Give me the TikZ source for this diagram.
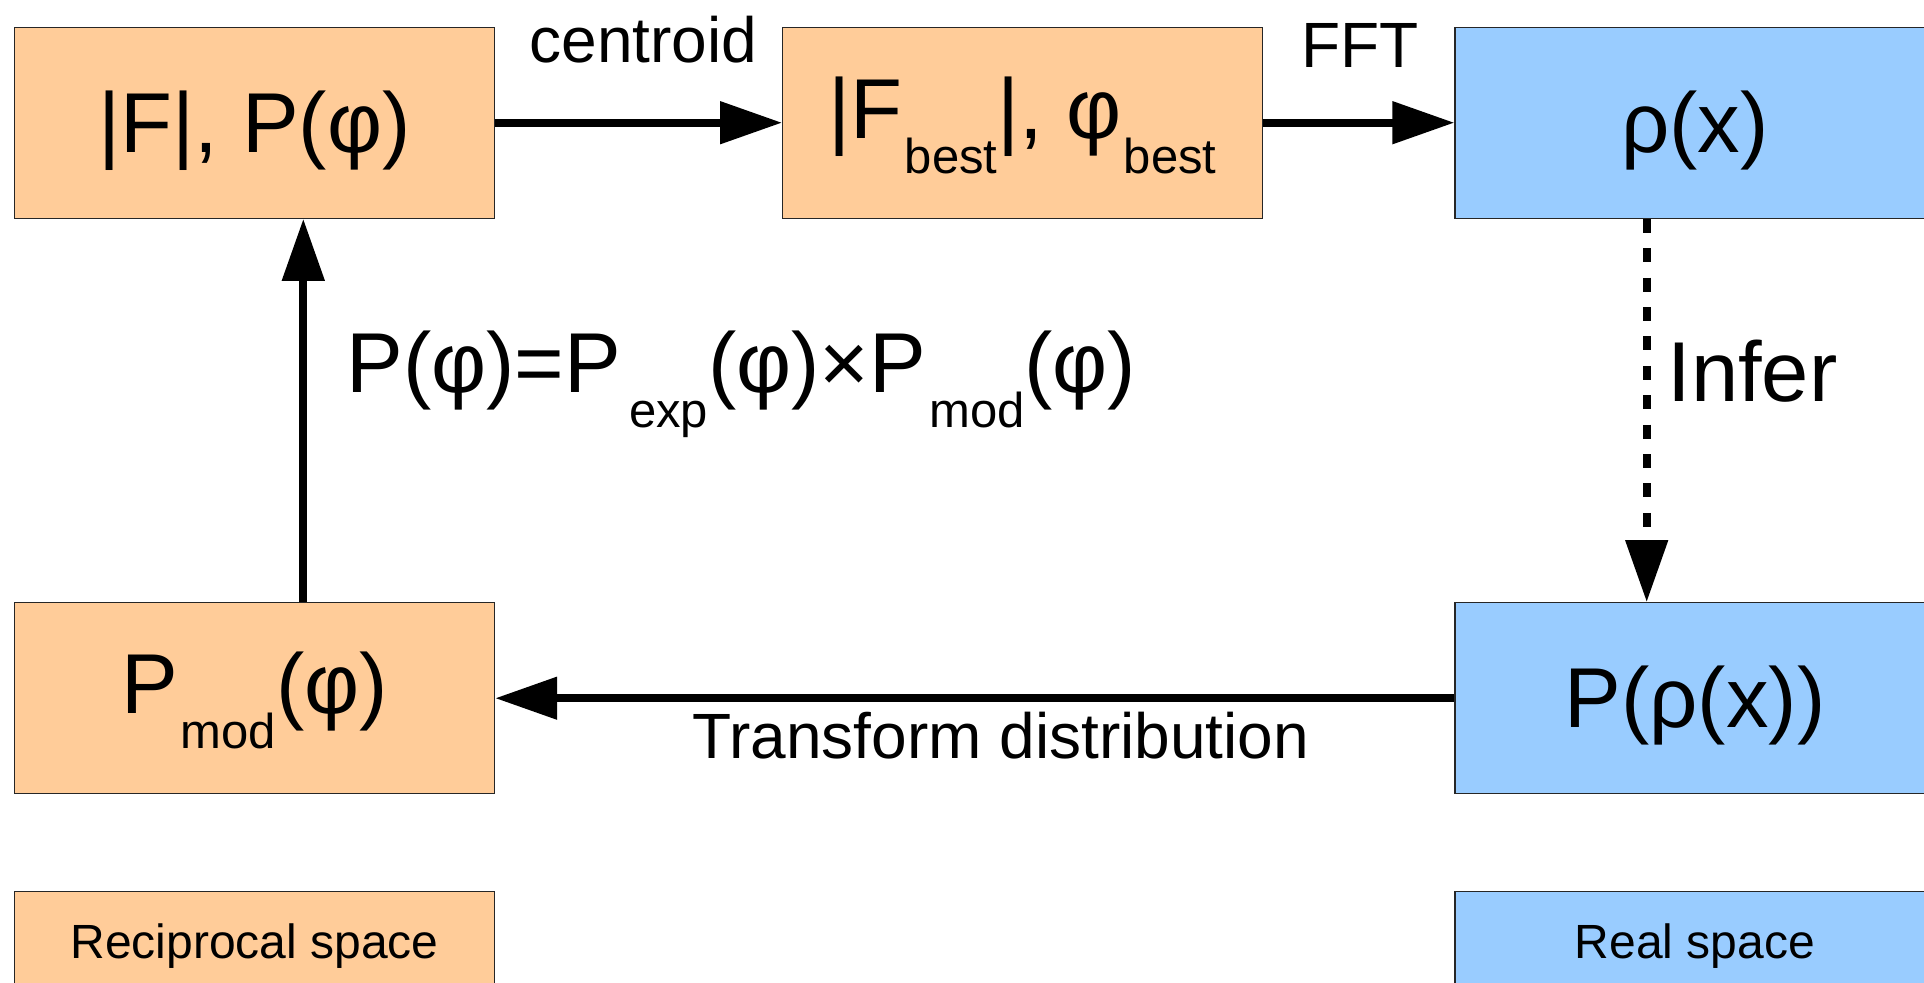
\documentclass[tikz,border=0pt]{standalone}
\usepackage{fontspec}
\setmainfont{Liberation Sans}
\usetikzlibrary{arrows.meta,calc}

\definecolor{recipfill}{HTML}{FFCC99}
\definecolor{realfill}{HTML}{99CCFF}

% text sizes
\newcommand{\bigtxt}{\fontsize{42.5pt}{42.5pt}\selectfont}
\newcommand{\midtxt}{\fontsize{32pt}{32pt}\selectfont}
\newcommand{\smalltxt}{\fontsize{24pt}{24pt}\selectfont}
% line strut: font ascent and descent
\newcommand{\lostrut}{\rule[-0.212em]{0pt}{1.117em}}
% lowered subscript, optional kern before it
\newcommand{\lowsub}[2][0pt]{\kern#1\raisebox{-17.5pt}{\fontsize{24.5pt}{24.5pt}\selectfont #2\lostrut}}

\begin{document}
\begin{tikzpicture}[x=0.5pt,y=-0.5pt,
  boxbase/.style={rectangle, draw=black!85, line width=0.6pt,
    minimum width=240pt, minimum height=95.5pt, inner sep=0pt},
  recip/.style={boxbase, fill=recipfill},
  real/.style={boxbase, fill=realfill},
  flow/.style={line width=4pt, -{Triangle[length=31pt,width=20.5pt]}},
  lbl/.style={anchor=base, inner sep=0pt}]
\clip (0,0) rectangle (1924,982);

% boxes
\node[recip] (A) at (254.6,122.7) {\bigtxt\lostrut|F|, P(φ)};
\node[recip] (B) at (1022.7,122.7) {\bigtxt\lostrut|F\lowsub[1pt]{best}|, φ\lowsub[1pt]{best}};
\node[real]  (C) at (1695,122.7) {\bigtxt\lostrut ρ(x)};
\node[recip] (D) at (254.6,698.2) {\bigtxt\lostrut P\lowsub[1.5pt]{mod}(φ)};
\node[real]  (E) at (1695,698.2) {\bigtxt\lostrut P(ρ(x))};
\node[recip] (F) at (254.6,987.2) {};
\node[real]  (G) at (1695,987.2) {};
\node[lbl, font=\smalltxt] (Flab) at (254.6,958) {Reciprocal space};
\node[lbl, font=\smalltxt] (Glab) at (1695,958) {Real space};

% vertical arrow positions
\coordinate (upx) at (303.3,400);
\coordinate (infx) at (1646.7,400);

% connectors
\draw[flow] (A.east) -- (B.west);
\draw[flow] (B.east) -- (C.west);
\draw[flow, dash pattern=on 7pt off 7.7pt] (C.south -| infx) -- (E.north -| infx);
\draw[flow] (E.west) -- (D.east);
\draw[flow] (D.north -| upx) -- (A.south -| upx);

% connector labels
\node[lbl, font=\midtxt] (lc) at (643.5,62) {centroid};
\node[lbl, font=\midtxt] (lf) at (1360,67) {FFT};
\node[lbl, font=\midtxt] (lt) at (1001,758) {Transform distribution};
\node[lbl, anchor=base west, font=\bigtxt] (li) at (1667,401.7) {Infer};
\node[lbl, anchor=base west, font=\bigtxt] (lp) at (346,392.7)
  {P(φ)=P\lowsub[4pt]{exp}(φ)×P\lowsub[1.5pt]{mod}(φ)};
\end{tikzpicture}
\end{document}
